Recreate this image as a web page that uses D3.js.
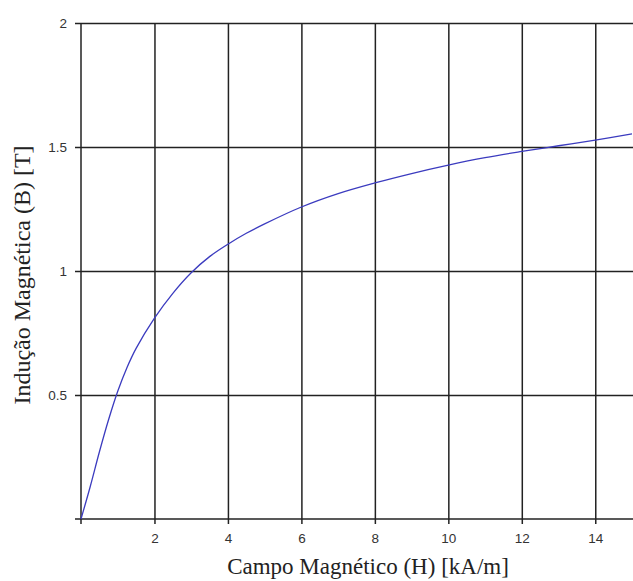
<!DOCTYPE html>
<html>
<head>
<meta charset="utf-8">
<script src="https://cdn.jsdelivr.net/npm/d3@7"></script>
<style>
  body { margin: 0; background: #fff; }
  svg { display: block; }
  .tick text { font-family: "Liberation Sans", Arial, sans-serif; font-size: 13.5px; fill: #333; }
  .title { font-family: "Liberation Serif", "Times New Roman", serif; fill: #222; }
</style>
</head>
<body>
<svg></svg>
<script>
// B-H curve
let hValues = [0, 0.25, 0.5, 0.75, 1, 1.25, 1.5, 2, 2.5, 3, 3.5, 4, 4.5, 5, 6, 7, 8, 9, 10, 11, 12, 13, 14, 15]
let bValues = [0, 0.13, 0.27, 0.40, 0.515, 0.61, 0.688, 0.81, 0.91, 0.993, 1.058, 1.108, 1.152, 1.19, 1.258, 1.312, 1.355, 1.393, 1.427, 1.457, 1.482, 1.505, 1.528, 1.553]

let xTicks = [2, 4, 6, 8, 10, 12, 14]
let yTicks = [0.5, 1, 1.5, 2]
let xTitle = 'Campo Magnético (H) [kA/m]'
let yTitle = 'Indução Magnética (B) [T]'

let width = 633
let height = 581
let padLeft = 81
let padRight = 632
let padTop = 23
let padBottom = 519

let svg = d3.select('svg').attr('width', width).attr('height', height)

let xScale = d3.scaleLinear().domain([0, 15]).range([padLeft, padRight])
let yScale = d3.scaleLinear().domain([0, 2]).range([padBottom, padTop])

// grid via axes with long ticks
let xAxis = d3.axisBottom(xScale)
    .tickValues(xTicks)
    .tickFormat(d => String(d))
    .tickSizeOuter(0)
    .tickPadding(8)

let yAxis = d3.axisLeft(yScale)
    .tickValues(yTicks)
    .tickFormat(d => String(d))
    .tickSizeOuter(0)
    .tickPadding(8)

let gx = svg.append('g')
    .attr('transform', 'translate(0,' + padBottom + ')')
    .call(xAxis)
gx.selectAll('.tick line').attr('y1', 5).attr('y2', padTop - padBottom)

let gy = svg.append('g')
    .attr('transform', 'translate(' + padLeft + ',0)')
    .call(yAxis)
gy.selectAll('.tick line').attr('x1', -6).attr('x2', width - padLeft)

svg.selectAll('.domain').remove()
svg.selectAll('.tick line').attr('stroke', '#222').attr('stroke-width', 1.5)

// axis lines at x=0 and y=0
svg.append('line')
    .attr('x1', padLeft).attr('x2', padLeft)
    .attr('y1', padTop).attr('y2', padBottom + 5)
    .attr('stroke', '#222').attr('stroke-width', 1.5)
svg.append('line')
    .attr('x1', padLeft - 6).attr('x2', width)
    .attr('y1', padBottom).attr('y2', padBottom)
    .attr('stroke', '#222').attr('stroke-width', 1.5)

let points = hValues.map((h, i) => [h, bValues[i]])

let line = d3.line()
    .x(d => xScale(d[0]))
    .y(d => yScale(d[1]))
    .curve(d3.curveCatmullRom.alpha(0.5))

svg.append('path')
    .datum(points)
    .attr('d', line)
    .attr('fill', 'none')
    .attr('stroke', '#3b3bbf')
    .attr('stroke-width', 1.3)

svg.append('text')
    .attr('class', 'title')
    .attr('x', 368)
    .attr('y', 574)
    .attr('text-anchor', 'middle')
    .style('font-size', '23px')
    .text(xTitle)

svg.append('text')
    .attr('class', 'title')
    .attr('transform', 'translate(30,275) rotate(-90)')
    .attr('text-anchor', 'middle')
    .style('font-size', '24px')
    .text(yTitle)
</script>
</body>
</html>
